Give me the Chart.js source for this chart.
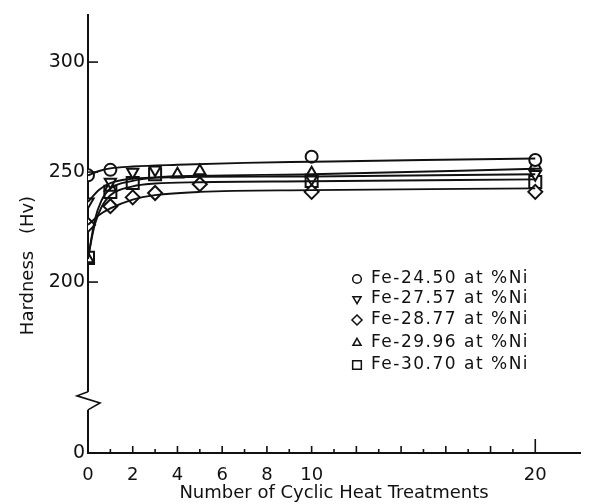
<!DOCTYPE html>
<html>
<head>
<meta charset="utf-8">
<script src="https://cdn.jsdelivr.net/npm/chart.js@4.4.1/dist/chart.umd.min.js"></script>
<style>
  body { margin: 0; background: #fff; }
  canvas { display: block; }
</style>
</head>
<body>
<canvas id="myChart" width="616" height="504"></canvas>
<script>
// measured points (number of cycles, hardness Hv)
const cycles2450 = [0, 1, 10, 20];
const hv2450 = [248.5, 251, 257, 255.5];
const cycles2757 = [0, 1, 2, 3, 10, 20];
const hv2757 = [236.5, 245.5, 250, 251, 247, 249];
const cycles2877 = [0, 1, 2, 3, 5, 10, 20];
const hv2877 = [226, 234.5, 238.5, 240.5, 244.5, 241, 241];
const cycles2996 = [0, 1, 4, 5, 10, 20];
const hv2996 = [210.5, 243, 249, 250.5, 249.5, 253];
const cycles3070 = [0, 1, 2, 3, 10, 20];
const hv3070 = [211, 241, 245, 249, 246, 245.5];

// hand-drawn fitted curves
const fitCycles2450 = [0, 0.5, 1, 2, 4, 7, 10, 15, 20];
const fitHv2450 = [248.5, 250.5, 251.7, 252.5, 253.3, 254.2, 254.7, 255.5, 256.2];
const fitCycles2757 = [0, 0.5, 1, 2, 3, 5, 10, 20];
const fitHv2757 = [236.5, 242, 245, 247, 247.5, 247.8, 248, 249];
const fitCycles2877 = [0, 0.5, 1, 2, 3, 5, 10, 20];
const fitHv2877 = [226, 230.5, 233.5, 237.5, 239.5, 241, 241.8, 242.6];
const fitCycles2996 = [0, 0.3, 0.6, 1, 2, 3, 5, 10, 20];
const fitHv2996 = [210.5, 228, 237, 242.5, 246, 247.5, 248.3, 249, 251.5];
const fitCycles3070 = [0, 0.3, 0.6, 1, 2, 3, 5, 10, 20];
const fitHv3070 = [211, 226, 234, 239.5, 243.5, 244.8, 245.4, 245.8, 246.7];

const seriesNames = ['Fe-24.50 at %Ni', 'Fe-27.57 at %Ni', 'Fe-28.77 at %Ni', 'Fe-29.96 at %Ni', 'Fe-30.70 at %Ni'];

const xTickValues = [0, 1, 2, 3, 4, 5, 6, 7, 8, 9, 10, 11, 12, 13, 14, 15, 16, 17, 18, 19, 20];
const xTickLabels = {0: '0', 2: '2', 4: '4', 6: '6', 8: '8', 10: '10', 20: '20'};
const yTickValues = [122.3, 200, 250, 300];
const yTickLabels = ['0', '200', '250', '300'];
const yBreakAt = 146;

const markers = [
  {pointStyle: 'circle', rotation: 0, radius: 6},
  {pointStyle: 'triangle', rotation: 180, radius: 6.5},
  {pointStyle: 'rectRot', rotation: 0, radius: 7},
  {pointStyle: 'triangle', rotation: 0, radius: 6.5},
  {pointStyle: 'rect', rotation: 0, radius: 8.5}
];

const pointSets = [[cycles2450, hv2450], [cycles2757, hv2757], [cycles2877, hv2877], [cycles2996, hv2996], [cycles3070, hv3070]];
const fitSets = [[fitCycles2450, fitHv2450], [fitCycles2757, fitHv2757], [fitCycles2877, fitHv2877], [fitCycles2996, fitHv2996], [fitCycles3070, fitHv3070]];

function toXY(xs, ys) {
  return xs.map((x, i) => ({x: x, y: ys[i]}));
}

let datasets = [];
fitSets.forEach(([xs, ys], i) => {
  datasets.push({
    label: seriesNames[i] + ' fit',
    data: toXY(xs, ys),
    borderColor: '#111',
    borderWidth: 1.9,
    pointRadius: 0,
    cubicInterpolationMode: 'monotone',
    fill: false
  });
});
pointSets.forEach(([xs, ys], i) => {
  datasets.push({
    label: seriesNames[i],
    data: toXY(xs, ys),
    showLine: false,
    pointStyle: markers[i].pointStyle,
    rotation: markers[i].rotation,
    pointRadius: markers[i].radius,
    pointBackgroundColor: '#fff',
    pointBorderColor: '#111',
    pointBorderWidth: 2
  });
});

const extras = {
  id: 'extras',
  afterDraw(chart) {
    const ctx = chart.ctx;
    const xs = chart.scales.x, ys = chart.scales.y;
    const area = chart.chartArea;
    ctx.save();
    ctx.strokeStyle = '#111';
    ctx.lineWidth = 1.6;
    // x ticks pointing up
    xTickValues.forEach(v => {
      if (v === 0) return;
      const px = xs.getPixelForValue(v);
      const len = v === 20 ? 14 : (v % 2 ? 4 : 7);
      ctx.beginPath();
      ctx.moveTo(px, area.bottom);
      ctx.lineTo(px, area.bottom - len);
      ctx.stroke();
    });
    // y ticks pointing right
    yTickValues.slice(1).forEach(v => {
      const py = ys.getPixelForValue(v);
      ctx.beginPath();
      ctx.moveTo(area.left, py);
      ctx.lineTo(area.left + 10, py);
      ctx.stroke();
    });
    // axis break
    const yb = ys.getPixelForValue(yBreakAt);
    ctx.fillStyle = '#fff';
    ctx.fillRect(area.left - 3, yb - 9, 6, 18);
    ctx.beginPath();
    ctx.moveTo(area.left, yb - 9);
    ctx.lineTo(area.left - 11, yb - 5);
    ctx.lineTo(area.left + 12, yb + 2);
    ctx.lineTo(area.left, yb + 9);
    ctx.stroke();

    // y title
    ctx.fillStyle = '#111';
    ctx.font = '18px "DejaVu Sans"';
    ctx.textAlign = 'center';
    ctx.textBaseline = 'middle';
    ctx.translate(28, 0);
    ctx.rotate(-Math.PI / 2);
    ctx.fillText('Hardness', -293, 0);
    ctx.fillText('(Hv)', -215, 0);
    ctx.restore();

    // legend
    ctx.save();
    ctx.font = '17px "DejaVu Sans"';
    ctx.letterSpacing = '1.5px';
    ctx.fillStyle = '#111';
    ctx.strokeStyle = '#111';
    ctx.textAlign = 'left';
    ctx.textBaseline = 'middle';
    const rows = [279, 299, 320, 343, 365];
    seriesNames.forEach((name, i) => {
      ctx.fillStyle = '#fff';
      ctx.lineWidth = 1.5;
      Chart.helpers.drawPoint(ctx, {
        pointStyle: markers[i].pointStyle,
        rotation: markers[i].rotation,
        radius: markers[i].radius * 0.72,
        borderWidth: 1.5
      }, 357, rows[i]);
      ctx.fillStyle = '#111';
      ctx.fillText(name, 371, rows[i]);
    });
    ctx.restore();
  }
};

new Chart(document.getElementById('myChart'), {
  type: 'line',
  data: { datasets },
  options: {
    responsive: false,
    animation: false,
    layout: { padding: { top: 15, right: 36, left: 0, bottom: 0 } },
    plugins: { legend: { display: false }, tooltip: { enabled: false } },
    scales: {
      x: {
        type: 'linear',
        min: 0,
        max: 22,
        afterBuildTicks: scale => { scale.ticks = xTickValues.map(v => ({value: v})); },
        afterFit: scale => { scale.height = 51; },
        grid: { display: false, drawTicks: false },
        border: { display: true, color: '#111', width: 2 },
        ticks: {
          autoSkip: false,
          maxRotation: 0,
          padding: 12,
          color: '#111',
          font: { family: 'DejaVu Sans', size: 18 },
          callback: v => xTickLabels[v] || ''
        },
        title: {
          display: true,
          text: 'Number of Cyclic Heat Treatments',
          color: '#111',
          font: { family: 'DejaVu Sans', size: 18 },
          padding: { top: 0, bottom: 0 }
        }
      },
      y: {
        min: 122.3,
        max: 321.4,
        afterBuildTicks: scale => { scale.ticks = yTickValues.map(v => ({value: v})); },
        afterFit: scale => { scale.width = 88; },
        grid: { display: false, drawTicks: false },
        border: { display: true, color: '#111', width: 2 },
        ticks: {
          padding: 3,
          color: '#111',
          font: { family: 'DejaVu Sans', size: 19 },
          callback: (v, i) => yTickLabels[i]
        }
      }
    }
  },
  plugins: [extras]
});
</script>
</body>
</html>
